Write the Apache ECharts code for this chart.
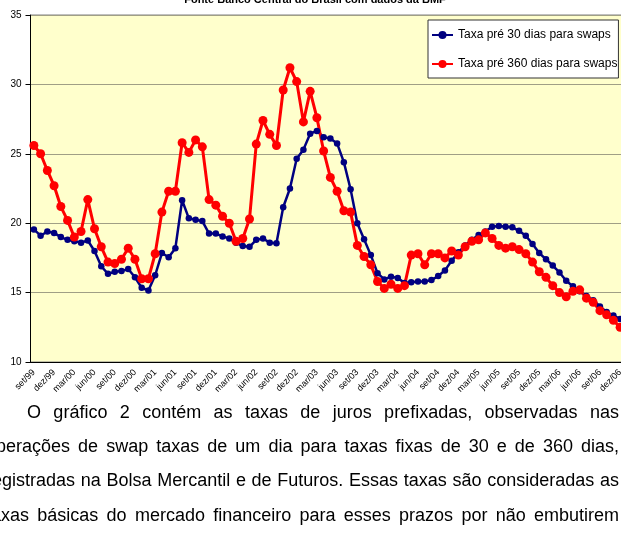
<!DOCTYPE html>
<html><head><meta charset="utf-8">
<script src="https://cdn.jsdelivr.net/npm/echarts@6/dist/echarts.min.js"></script>
<style>
html,body{margin:0;padding:0;width:621px;height:535px;overflow:hidden;background:#fff;}
#chart{position:absolute;left:0;top:0;width:640px;height:400px;}
#text{position:absolute;left:-14px;top:394.6px;width:633px;font-family:'Liberation Sans',Arial,sans-serif;font-size:18px;line-height:34.4px;color:#000;}
#text div{text-align:justify;text-align-last:justify;white-space:nowrap;}
</style></head>
<body>
<div id="chart"></div>
<div id="text">
<div style="padding-left:41px">O gráfico 2 contém as taxas de juros prefixadas, observadas nas</div>
<div>operações de swap taxas de um dia para taxas fixas de 30 e de 360 dias,</div>
<div>registradas na Bolsa Mercantil e de Futuros. Essas taxas são consideradas as</div>
<div>taxas básicas do mercado financeiro para esses prazos por não embutirem</div>
</div>
<script>
const months = [
 'set/99','out/99','nov/99','dez/99',
 'jan/00','fev/00','mar/00','abr/00','mai/00','jun/00','jul/00','ago/00','set/00','out/00','nov/00','dez/00',
 'jan/01','fev/01','mar/01','abr/01','mai/01','jun/01','jul/01','ago/01','set/01','out/01','nov/01','dez/01',
 'jan/02','fev/02','mar/02','abr/02','mai/02','jun/02','jul/02','ago/02','set/02','out/02','nov/02','dez/02',
 'jan/03','fev/03','mar/03','abr/03','mai/03','jun/03','jul/03','ago/03','set/03','out/03','nov/03','dez/03',
 'jan/04','fev/04','mar/04','abr/04','mai/04','jun/04','jul/04','ago/04','set/04','out/04','nov/04','dez/04',
 'jan/05','fev/05','mar/05','abr/05','mai/05','jun/05','jul/05','ago/05','set/05','out/05','nov/05','dez/05',
 'jan/06','fev/06','mar/06','abr/06','mai/06','jun/06','jul/06','ago/06','set/06','out/06','nov/06','dez/06'
];
const taxa30 = [
 19.55,19.1,19.4,19.3,19.0,18.8,18.7,18.6,18.75,18.0,
 16.9,16.35,16.5,16.55,16.7,16.1,15.35,15.15,16.25,17.85,
 17.55,18.2,21.65,20.35,20.25,20.15,19.25,19.25,19.05,18.9,
 18.6,18.35,18.3,18.8,18.9,18.6,18.55,21.15,22.5,24.65,
 25.3,26.45,26.65,26.2,26.1,25.75,24.4,22.45,20.0,18.85,
 17.7,16.4,15.95,16.15,16.05,15.7,15.75,15.8,15.8,15.9,
 16.2,16.6,17.3,17.9,18.4,18.8,19.15,19.4,19.75,19.8,
 19.75,19.7,19.45,19.1,18.5,17.85,17.4,16.95,16.45,15.85,
 15.45,15.1,14.75,14.45,14.0,13.6,13.35,13.1
];
const taxa360 = [
 25.6,25.0,23.8,22.7,21.2,20.2,19.0,19.4,21.7,19.6,
 18.3,17.2,17.1,17.4,18.2,17.4,16.0,16.0,17.8,20.8,
 22.3,22.3,25.8,25.1,26.0,25.5,21.7,21.3,20.5,20.0,
 18.7,18.9,20.3,25.7,27.4,26.4,25.6,29.6,31.2,30.2,
 27.3,29.5,27.6,25.2,23.3,22.3,20.9,20.8,18.4,17.6,
 17.0,15.8,15.3,15.6,15.3,15.5,17.7,17.8,17.0,17.8,
 17.8,17.5,18.0,17.7,18.3,18.7,18.8,19.3,18.9,18.4,
 18.2,18.3,18.1,17.8,17.2,16.5,16.1,15.5,15.0,14.7,
 15.1,15.2,14.6,14.3,13.7,13.4,13.0,12.5
];
const yMin = 10, yMax = 35, yStep = 5;
const seriesNames = ['Taxa pré 30 dias para swaps','Taxa pré 360 dias para swaps'];
const titleText = 'Fonte Banco Central do Brasil com dados da BMF';
const FF = '"Liberation Sans", Arial, sans-serif';

const chart = echarts.init(document.getElementById('chart'), null, {renderer:'canvas'});
chart.setOption({
  animation:false,
  textStyle:{fontFamily:FF},
  graphic:[{type:'text', x:315, y:0, z:100,
    style:{text:titleText, font:'bold 11px ' + FF, textAlign:'center', textVerticalAlign:'middle', fill:'#000'}}],
  grid:{left:30.5, top:15, width:593, height:347, show:true, backgroundColor:'#FFFFCC', borderColor:'#808080', borderWidth:1},
  legend:{orient:'vertical', left:428, top:20, padding:[9,1,8,3], itemWidth:21, itemHeight:10, itemGap:17,
    backgroundColor:'#fff', borderColor:'#333', borderWidth:1,
    textStyle:{fontSize:12, color:'#000', fontFamily:FF}, data:seriesNames},
  xAxis:{type:'category', data:months, boundaryGap:true,
    axisLine:{lineStyle:{color:'#000', width:1}},
    axisTick:{interval:2, length:5, lineStyle:{color:'#000'}},
    axisLabel:{interval:2, rotate:45, fontSize:9, color:'#000', margin:9, fontFamily:FF},
    splitLine:{show:false}},
  yAxis:{type:'value', min:yMin, max:yMax, interval:yStep,
    axisLine:{show:true, lineStyle:{color:'#000', width:1}},
    axisTick:{show:true, length:5, lineStyle:{color:'#000'}},
    axisLabel:{fontSize:10, color:'#000', margin:9, fontFamily:FF},
    splitLine:{lineStyle:{color:'#a09f85', width:1}}},
  series:[
    {name:seriesNames[0], type:'line', data:taxa30, symbol:'circle', symbolSize:6.5, showAllSymbol:true,
     lineStyle:{color:'#000080', width:2.5}, itemStyle:{color:'#000080'}},
    {name:seriesNames[1], type:'line', data:taxa360, symbol:'circle', symbolSize:9, showAllSymbol:true,
     lineStyle:{color:'#ff0000', width:3}, itemStyle:{color:'#ff0000'}}
  ]
});
</script>
</body></html>
